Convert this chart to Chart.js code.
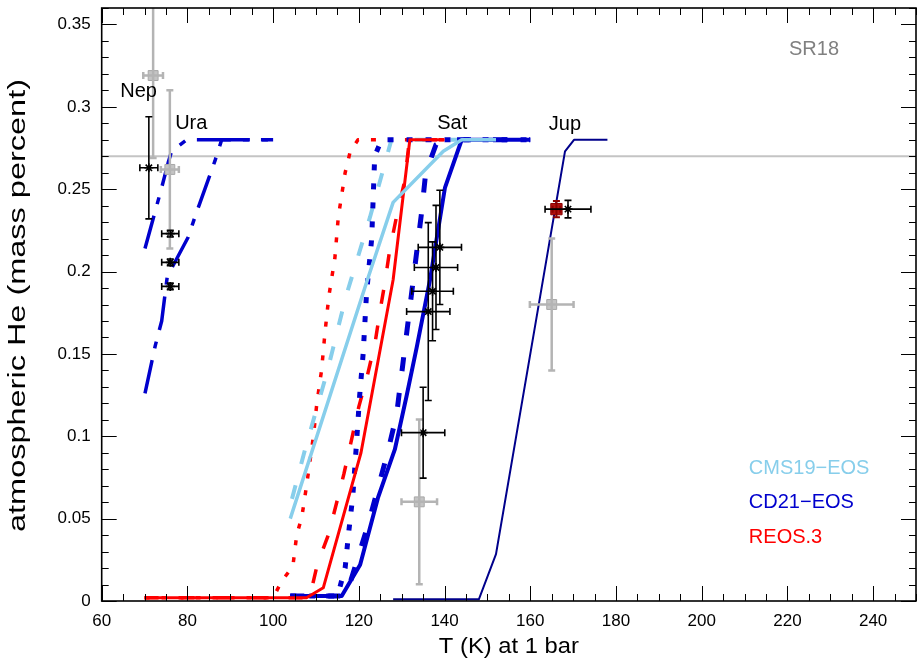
<!DOCTYPE html>
<html><head><meta charset="utf-8">
<script src="https://cdn.jsdelivr.net/npm/chart.js@4.4.1/dist/chart.umd.min.js"></script>
<style>html,body{margin:0;padding:0;background:#fff}#wrap{width:918px;height:661px;position:relative}</style>
</head><body><div id="wrap"><canvas id="c" width="918" height="661"></canvas></div>
<script>
// ---- axis ticks ----
const xTickValues = [60, 80, 100, 120, 140, 160, 180, 200, 220, 240];
const yTickValues = [0, 0.05, 0.1, 0.15, 0.2, 0.25, 0.3, 0.35];
const xMinorStep = 5;
const yMinorStep = 0.01;
const xTitle = 'T (K) at 1 bar';
const yTitle = 'atmospheric He (mass percent)';

// ---- reference (protosolar) He line ----
const refLineT = [60, 250];
const refLineY = [0.27, 0.27];

// ---- CMS19-EOS (light blue) ----
const cmsSolidT = [104, 122, 128, 139.7, 144, 152];
const cmsSolidY = [0.05, 0.195, 0.242, 0.273, 0.28, 0.28];
const cmsDashedT = [104.4, 107.4, 112.6, 117, 122.6, 127.6, 152];
const cmsDashedY = [0.062, 0.0915, 0.139, 0.185, 0.233, 0.28, 0.28];

// ---- CD21-EOS (blue) ----
const cdSolidT = [104, 116, 120.3, 124.5, 128.4, 131.1, 133.5, 136.6, 140.1, 144, 160];
const cdSolidY = [0.003, 0.003, 0.022, 0.063, 0.092, 0.124, 0.154, 0.195, 0.251, 0.28, 0.28];
const cdDashedT = [104, 117, 122, 126.7, 128.8, 134.6, 135.6, 138, 140, 160];
const cdDashedY = [0.003, 0.003, 0.045, 0.09, 0.113, 0.235, 0.26, 0.277, 0.28, 0.28];
const cdDottedT = [104, 115, 116.8, 117.6, 118.6, 119.3, 120.2, 121, 121.8, 123, 123.7, 125.3, 160];
const cdDottedY = [0.003, 0.003, 0.02, 0.041, 0.064, 0.09, 0.125, 0.15, 0.187, 0.22, 0.27, 0.28, 0.28];
const cdJupT = [128, 148, 152, 168.1, 170.2, 178];
const cdJupY = [0.001, 0.001, 0.0285, 0.273, 0.28, 0.28];
const cdNepT = [70.1, 74, 75.5, 76.3, 79.8, 100];
const cdNepY = [0.214, 0.251, 0.266, 0.273, 0.28, 0.28];
const cdUraT = [70.1, 72.5, 74, 75.3, 80.2, 82, 86.4, 88, 100];
const cdUraY = [0.126, 0.155, 0.17, 0.197, 0.221, 0.235, 0.267, 0.28, 0.28];

// ---- REOS.3 (red) ----
const reosSolidT = [70, 107.8, 111.7, 120.5, 128, 131.9, 140];
const reosSolidY = [0.002, 0.002, 0.008, 0.09, 0.195, 0.28, 0.28];
const reosDashedT = [70, 108.5, 110.3, 113, 116.5, 118.3, 120, 122, 123.8, 125, 126, 127.2, 129, 130.7, 131.8, 140];
const reosDashedY = [0.002, 0.002, 0.022, 0.041, 0.077, 0.098, 0.118, 0.137, 0.157, 0.177, 0.192, 0.213, 0.236, 0.255, 0.28, 0.28];
const reosDottedT = [70, 100, 102, 104.6, 105.5, 106.7, 107.8, 108.6, 109.4, 110.2, 111.3, 112.1, 113, 114.4, 115.2, 116.8, 118, 119.8, 140];
const reosDottedY = [0.002, 0.002, 0.012, 0.021, 0.04, 0.051, 0.07, 0.085, 0.1, 0.12, 0.14, 0.163, 0.185, 0.208, 0.233, 0.26, 0.273, 0.28, 0.28];

// ---- observations ----
const obsGrayT = [72.0, 75.9, 134.1, 165.0];
const obsGrayY = [0.319, 0.262, 0.0602, 0.180];
const obsGrayTErr = [2.3, 2.1, 4.15, 5.1];
const obsGrayYErr = [0.05, 0.048, 0.05, 0.04];

const obsBlackT = [71.0, 76.0, 76.0, 76.0, 138.9, 138.0, 137.2, 136.2, 135.0, 168.8];
const obsBlackY = [0.263, 0.223, 0.2056, 0.191, 0.2147, 0.2025, 0.188, 0.1757, 0.1022, 0.2379];
const obsBlackTErr = [2.1, 2.0, 2.0, 2.0, 5.05, 5.05, 4.85, 5.05, 5.05, 5.35];
const obsBlackYErr = [0.031, 0.002, 0.002, 0.002, 0.0347, 0.0377, 0.030, 0.054, 0.0276, 0.0053];

const obsRedT = [166.1];
const obsRedY = [0.2379];
const obsRedTErr = [0.9];
const obsRedYErr = [0.005];

// ---- text labels ----
const planetNames = ['Nep', 'Ura', 'Sat', 'Jup'];
const planetLabelT = [68.6, 80.9, 141.8, 168.1];
const planetLabelY = [0.3096, 0.2896, 0.2896, 0.289];
const legendNames = ['CMS19\u2212EOS', 'CD21\u2212EOS', 'REOS.3'];
const legendColors = ['#87CEEB', '#0000CD', '#FF0000'];
const legendY = [0.0806, 0.06, 0.0388];

const FONT = "'Liberation Sans', Arial, Helvetica, sans-serif";
const LBLUE = '#87CEEB', BLUE = '#0000CD', RED = '#FF0000', NAVY = '#00008B';

const pts = (xs, ys) => xs.map((x, i) => ({x, y: ys[i]}));
const errPts = (xs, ys, xe, ye) => xs.map((x, i) => ({x, y: ys[i], xe: xe[i], ye: ye[i]}));

function line(data, color, width, dash, order) {
  return {data, borderColor: color, borderWidth: width, borderDash: dash || [],
    showLine: true, pointRadius: 0, fill: false, tension: 0, order: order || 5,
    borderCapStyle: 'butt', borderJoinStyle: 'round'};
}

const datasets = [
  line(pts(refLineT, refLineY), '#c4c4c4', 2, [], 20),
  line(pts(cdJupT, cdJupY), NAVY, 2, [], 6),
  line(pts(cdNepT, cdNepY), BLUE, 3.5, [34, 12, 7, 12], 6),
  line(pts(cdUraT, cdUraY), BLUE, 3.5, [34, 12, 7, 12], 6),
  line(pts(reosDottedT, reosDottedY), RED, 3.5, [5, 12], 7),
  line(pts(reosDashedT, reosDashedY), RED, 3.5, [14, 22], 7),
  line(pts(cdDottedT, cdDottedY), BLUE, 5, [6, 13], 6),
  line(pts(cdDashedT, cdDashedY), BLUE, 5, [14, 22], 6),
  line(pts(cmsDashedT, cmsDashedY), LBLUE, 4, [14, 22], 6),
  line(pts(reosSolidT, reosSolidY), RED, 3, [], 4),
  line(pts(cdSolidT, cdSolidY), BLUE, 4, [], 4),
  line(pts(cmsSolidT, cmsSolidY), LBLUE, 3.5, [], 3),
  {data: errPts(obsGrayT, obsGrayY, obsGrayTErr, obsGrayYErr), errColor: '#b4b4b4', errWidth: 2.5,
   pointStyle: 'rect', pointRadius: 7, backgroundColor: '#c4c4c4', borderColor: '#a8a8a8', borderWidth: 1, showLine: false, order: 2},
  {data: errPts(obsRedT, obsRedY, obsRedTErr, obsRedYErr), errColor: '#8b0000', errWidth: 2,
   pointStyle: 'rect', pointRadius: 8, backgroundColor: '#b01010', borderColor: '#8b0000', borderWidth: 1, showLine: false, order: 1},
  {data: errPts(obsBlackT, obsBlackY, obsBlackTErr, obsBlackYErr), errColor: '#000', errWidth: 1.6,
   pointStyle: 'star', pointRadius: 4.5, backgroundColor: '#000', borderColor: '#000', borderWidth: 1.6, showLine: false, order: 0}
];

function stretchedText(ctx, text, cx, cy, size, targetLen, rot) {
  ctx.save();
  ctx.font = size + 'px ' + FONT;
  const w = ctx.measureText(text).width;
  ctx.translate(cx, cy);
  if (rot) ctx.rotate(rot);
  ctx.scale(targetLen / w, 1);
  ctx.textAlign = 'center'; ctx.textBaseline = 'middle';
  ctx.fillText(text, 0, 0);
  ctx.restore();
}

const decor = {
  id: 'decor',
  afterDatasetsDraw(chart) {
    const ctx = chart.ctx, xs = chart.scales.x, ys = chart.scales.y, a = chart.chartArea;
    ctx.save();
    ctx.beginPath(); ctx.rect(a.left, a.top, a.right - a.left, a.bottom - a.top); ctx.clip();
    chart.data.datasets.forEach(ds => {
      if (!ds.errColor) return;
      ctx.strokeStyle = ds.errColor; ctx.lineWidth = ds.errWidth;
      const cap = 3.5;
      ds.data.forEach(p => {
        const px = xs.getPixelForValue(p.x), py = ys.getPixelForValue(p.y);
        const x0 = xs.getPixelForValue(p.x - p.xe), x1 = xs.getPixelForValue(p.x + p.xe);
        const y0 = ys.getPixelForValue(p.y - p.ye), y1 = ys.getPixelForValue(p.y + p.ye);
        ctx.beginPath();
        ctx.moveTo(x0, py); ctx.lineTo(x1, py);
        ctx.moveTo(px, y0); ctx.lineTo(px, y1);
        ctx.moveTo(x0, py - cap); ctx.lineTo(x0, py + cap);
        ctx.moveTo(x1, py - cap); ctx.lineTo(x1, py + cap);
        ctx.moveTo(px - cap, y0); ctx.lineTo(px + cap, y0);
        ctx.moveTo(px - cap, y1); ctx.lineTo(px + cap, y1);
        ctx.stroke();
      });
    });
    ctx.restore();
  },
  afterDraw(chart) {
    const ctx = chart.ctx, xs = chart.scales.x, ys = chart.scales.y, a = chart.chartArea;
    ctx.save();
    ctx.strokeStyle = '#000'; ctx.lineWidth = 1;
    const maj = 15, mnr = 7;
    for (let v = xs.min; v <= xs.max + 1e-9; v += xMinorStep) {
      const isMaj = xTickValues.some(t => Math.abs(t - v) < 1e-6);
      const L = isMaj ? maj : mnr;
      const px = Math.round(xs.getPixelForValue(v)) + 0.5;
      ctx.beginPath();
      ctx.moveTo(px, a.bottom); ctx.lineTo(px, a.bottom - L);
      ctx.moveTo(px, a.top); ctx.lineTo(px, a.top + L);
      ctx.stroke();
    }
    for (let k = 0; k * yMinorStep <= ys.max + 1e-9; k++) {
      const v = k * yMinorStep;
      const isMaj = yTickValues.some(t => Math.abs(t - v) < 1e-6);
      const L = isMaj ? maj : mnr;
      const py = Math.round(ys.getPixelForValue(v)) + 0.5;
      ctx.beginPath();
      ctx.moveTo(a.left, py); ctx.lineTo(a.left + L, py);
      ctx.moveTo(a.right, py); ctx.lineTo(a.right - L, py);
      ctx.stroke();
    }
    ctx.lineWidth = 1.6;
    ctx.strokeRect(a.left, a.top, a.right - a.left, a.bottom - a.top);
    ctx.fillStyle = '#000';
    stretchedText(ctx, xTitle, (a.left + a.right) / 2, 647, 22, 140, 0);
    stretchedText(ctx, yTitle, 19, 305.5, 23, 453, -Math.PI / 2);
    ctx.font = '20px ' + FONT;
    ctx.textAlign = 'center'; ctx.textBaseline = 'middle';
    planetNames.forEach((n, i) => ctx.fillText(n, xs.getPixelForValue(planetLabelT[i]), ys.getPixelForValue(planetLabelY[i])));
    ctx.fillStyle = '#808080';
    ctx.fillText('SR18', xs.getPixelForValue(226.2), ys.getPixelForValue(0.335));
    ctx.textAlign = 'left';
    legendNames.forEach((n, i) => {
      ctx.fillStyle = legendColors[i];
      ctx.fillText(n, xs.getPixelForValue(211), ys.getPixelForValue(legendY[i]));
    });
    ctx.restore();
  }
};

new Chart(document.getElementById('c'), {
  type: 'scatter',
  data: {datasets},
  options: {
    responsive: false, animation: false, devicePixelRatio: 1,
    layout: {autoPadding: false, padding: {top: 8, right: 2, left: 0, bottom: 0}},
    plugins: {legend: {display: false}, tooltip: {enabled: false}},
    scales: {
      x: {
        type: 'linear', min: 60, max: 250,
        afterBuildTicks: s => { s.ticks = xTickValues.map(v => ({value: v})); },
        afterFit: s => { s.height = 60; s.paddingLeft = 0; s.paddingRight = 0; s.paddingTop = 0; s.paddingBottom = 0; },
        grid: {display: false, drawTicks: false},
        border: {display: false},
        ticks: {font: {family: FONT, size: 17}, color: '#000', padding: 10, maxRotation: 0, autoSkip: false},
        title: {display: false}
      },
      y: {
        type: 'linear', min: 0, max: 0.36,
        afterBuildTicks: s => { s.ticks = yTickValues.map(v => ({value: v})); },
        afterFit: s => { s.width = 101.7; s.paddingLeft = 0; s.paddingRight = 0; s.paddingTop = 0; s.paddingBottom = 0; },
        grid: {display: false, drawTicks: false},
        border: {display: false},
        ticks: {font: {family: FONT, size: 17}, color: '#000', padding: 11, autoSkip: false,
          callback: v => String(+(+v).toFixed(2))},
        title: {display: false}
      }
    }
  },
  plugins: [decor]
});
</script></body></html>
